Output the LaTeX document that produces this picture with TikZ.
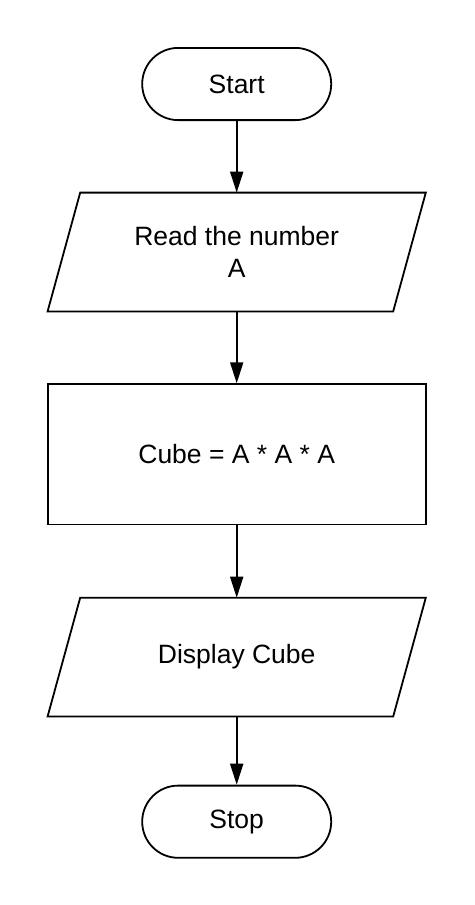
\documentclass[tikz,border=0pt]{standalone}
\usepackage{fontspec}
\setmainfont{Liberation Sans}
\usetikzlibrary{arrows.meta,positioning}
\tikzset{
	terminal/.style={draw, line width=1.8pt, rounded corners=36pt, minimum width=189pt, minimum height=72.2pt},
	inout/.style={rectangle, outer sep=0.9pt, minimum width=376.4pt, minimum height=117pt, align=center},
	process/.style={draw, line width=1.8pt, rectangle, minimum width=378pt, minimum height=140.2pt},
	flow/.style={line width=1.8pt, -{Triangle[length=21pt,width=13pt]}}
}
\begin{document}
\begin{tikzpicture}[node distance=71pt, font=\fontsize{26.5}{32}\selectfont]
				\useasboundingbox (0,0) rectangle (474pt,-905pt);
				\node[terminal] (start) at (236.7pt,-84pt) {Start};
				\node[inout, below=71.6pt of start] (read) {Read the number\\A};
				\node[process, below=71.9pt of read] (cube) {Cube = A * A * A};
				\node[inout, below=72.4pt of cube] (display) {Display Cube};
				\node[terminal, below=68.2pt of display] (stop) {Stop};
				
				\foreach \n in {read,display}
					\draw[line width=1.8pt] ([xshift=32.6pt]\n.north west) -- (\n.north east) -- ([xshift=-32.6pt]\n.south east) -- (\n.south west) -- cycle;
				
				\draw[flow] (start) -- (read);
				\draw[flow] (read) -- (cube);
				\draw[flow] (cube) -- (display);
				\draw[flow] (display) -- (stop);
\end{tikzpicture}
\end{document}
